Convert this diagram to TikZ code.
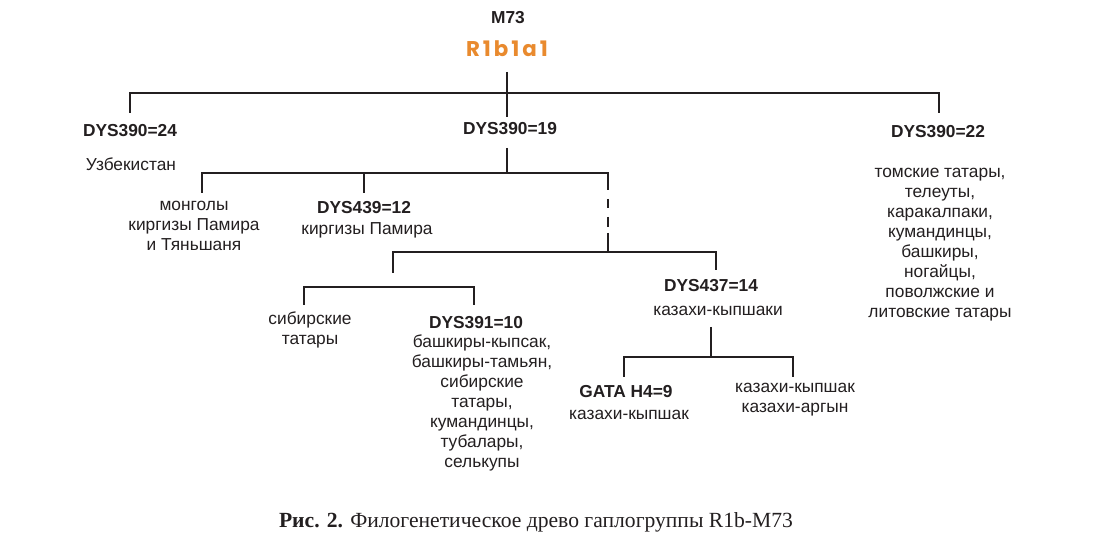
\documentclass[tikz,border=0pt]{standalone}
\usepackage{fontspec}
\setmainfont{Liberation Sans}
\newfontfamily\capfont{Liberation Serif}
\newfontfamily\rfont{Poppins}[LetterSpace=14]
\definecolor{ink}{HTML}{231F20}
\definecolor{orng}{HTML}{E98A2E}
\begin{document}
\begin{tikzpicture}[x=0.75pt,y=-0.75pt,
  ln/.style={draw=ink,line width=1.4pt},
  lbl/.style={inner sep=0pt,text=ink,font=\fontsize{13}{15}\selectfont\bfseries},
  txt/.style={inner sep=0pt,text=ink,align=center,font=\fontsize{13}{15}\selectfont}]
\useasboundingbox[fill=white] (0,0) rectangle (1093,545);
% nodes
\node[lbl] (m73) at (508,18) {M73};
\node[inner sep=0pt,text=orng,font=\fontsize{16}{18}\selectfont\rfont\bfseries] (r1) at (507,49) {R1b1a1};
\node[lbl] (d24) at (130,131) {DYS390=24};
\node[txt] (uzb) at (131,164) {Узбекистан};
\node[lbl] (d19) at (510,129) {DYS390=19};
\node[lbl] (d22) at (938,132) {DYS390=22};
\node[txt] (l22) at (940,244.5) {томские татары,\\телеуты,\\каракалпаки,\\кумандинцы,\\башкиры,\\ногайцы,\\поволжские и\\литовские татары};
\node[txt] (mong) at (194,226) {монголы\\киргизы Памира\\и Тяньшаня};
\node[lbl] (d439) at (364,208) {DYS439=12};
\node[txt] (kir) at (367,230) {киргизы Памира};
\node[txt] (sib) at (310,330) {сибирские\\татары};
\node[lbl] (d391) at (476,323) {DYS391=10};
\node[txt] (l391) at (482,403) {башкиры-кыпсак,\\башкиры-тамьян,\\сибирские\\татары,\\кумандинцы,\\тубалары,\\селькупы};
\node[lbl] (d437) at (711,286) {DYS437=14};
\node[txt] (kk) at (718,311) {казахи-кыпшаки};
\node[lbl] (gata) at (626,392) {GATA H4=9};
\node[txt] (kk2) at (629,415) {казахи-кыпшак};
\node[txt] (kka) at (795,399.5) {казахи-кыпшак\\казахи-аргын};
\node[inner sep=0pt,text=ink,font=\capfont\fontsize{16.2}{19}\selectfont] (cap) at (536,522) {\textbf{Рис. 2.} Филогенетическое древо гаплогруппы R1b-M73};
% junction coordinates
\coordinate (t0) at (507,72);
\coordinate (j0) at (507,93);
\coordinate (d24t) at (130,113);
\coordinate (d19t) at (507,117);
\coordinate (d22t) at (939,113);
\coordinate (s19) at (507,148);
\coordinate (j1) at (507,173);
\coordinate (mongt) at (202,193);
\coordinate (k1) at (364,173);
\coordinate (d439t) at (364,193);
\coordinate (q1) at (608,190);
\coordinate (q2) at (608,199);
\coordinate (q3) at (608,208);
\coordinate (q4) at (608,217);
\coordinate (q5) at (608,227);
\coordinate (q6) at (608,233);
\coordinate (j2) at (608,252);
\coordinate (g3) at (393,273);
\coordinate (d437t) at (716,270);
\coordinate (m4) at (389,287);
\coordinate (sibt) at (304,305);
\coordinate (d391t) at (474,305);
\coordinate (s437) at (711,327);
\coordinate (j5) at (711,357);
\coordinate (gatat) at (624,377);
\coordinate (kkat) at (793,377);
% connectors
\draw[ln] (t0) -- (j0);
\draw[ln] (d24t) |- (j0) -| (d22t);
\draw[ln] (j0) -- (d19t);
\draw[ln] (s19) -- (j1);
\draw[ln] (mongt) |- (j1) -| (q1);
\draw[ln] (k1) -- (d439t);
\draw[ln] (q2) -- (q3);
\draw[ln] (q4) -- (q5);
\draw[ln] (q6) -- (j2);
\draw[ln] (g3) |- (j2) -| (d437t);
\draw[ln] (sibt) -- (sibt |- m4) -| (d391t);
\draw[ln] (s437) -- (j5);
\draw[ln] (gatat) |- (j5) -| (kkat);
\end{tikzpicture}
\end{document}
